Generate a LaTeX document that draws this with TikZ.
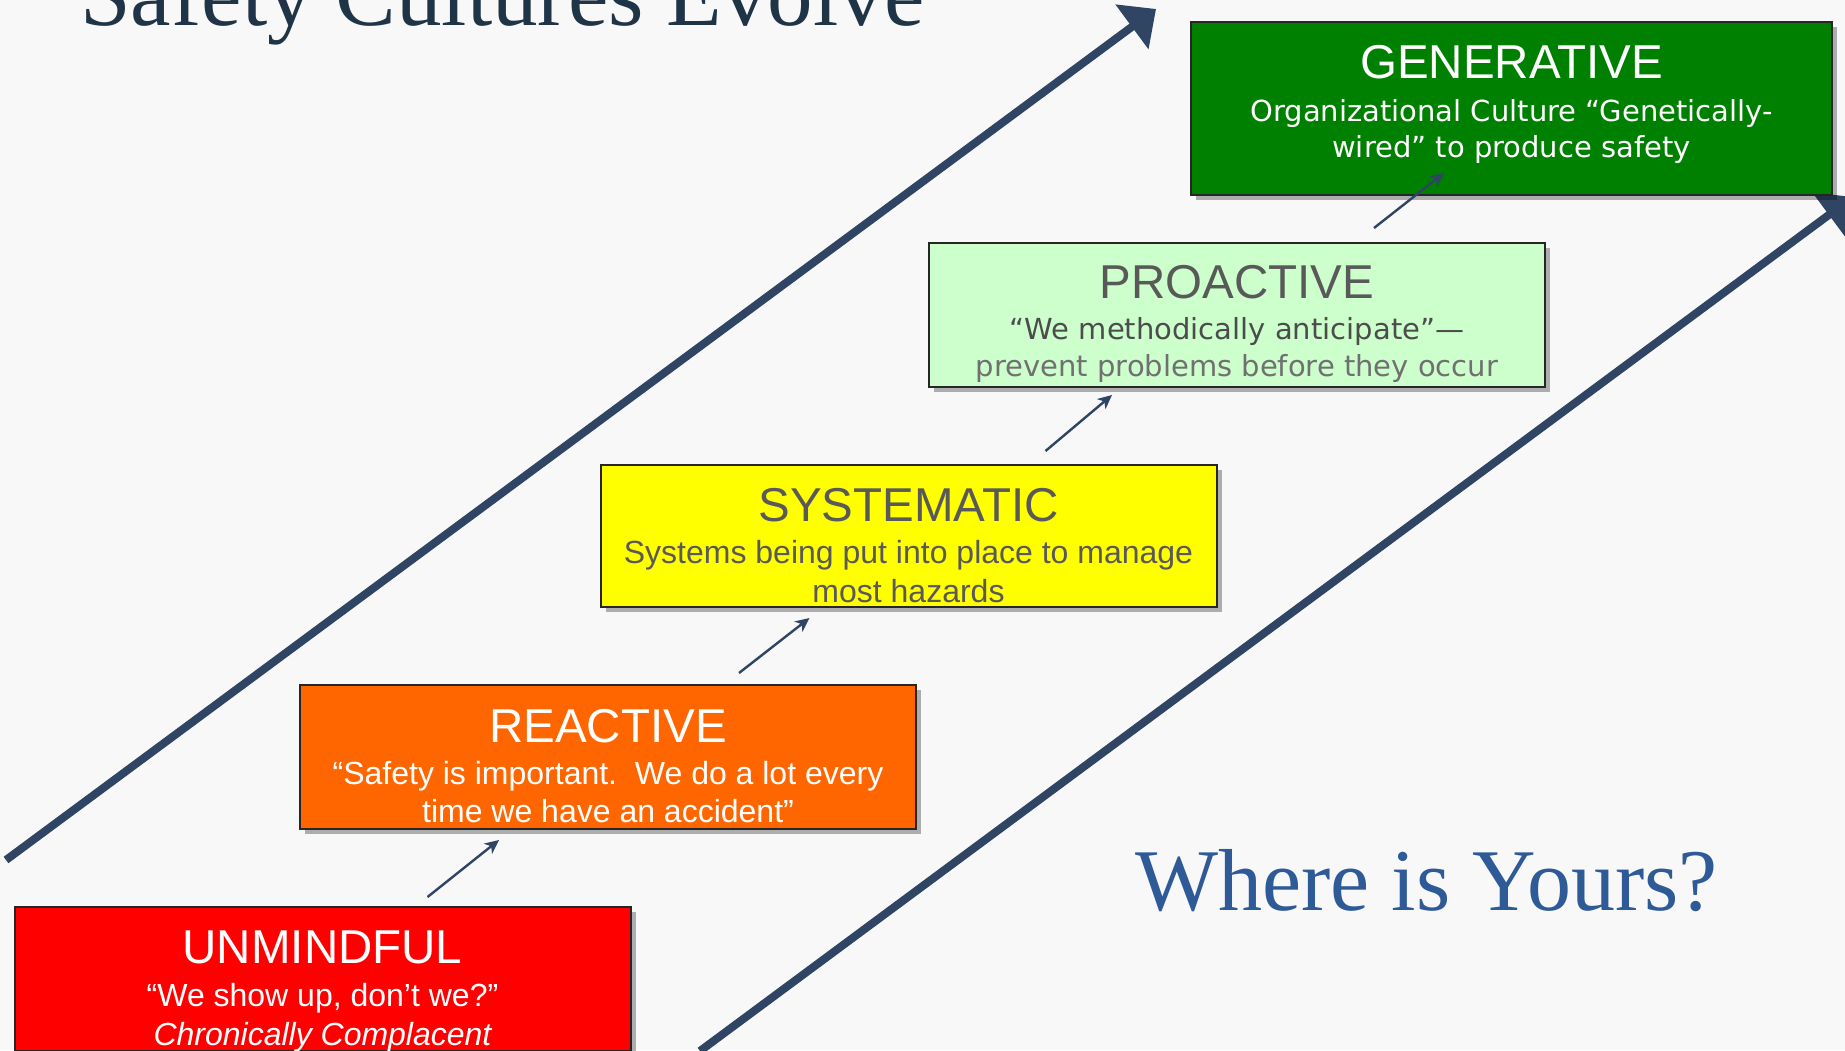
\documentclass[tikz,border=0pt]{standalone}
\usepackage{fontspec}
\setmainfont{Liberation Serif}
\newfontfamily\arialf{Liberation Sans}
\newfontfamily\verdf{DejaVu Sans}
\usetikzlibrary{arrows.meta,calc,shadows}
\definecolor{slate}{RGB}{47,69,99}
\definecolor{titleblue}{RGB}{31,52,71}
\definecolor{askblue}{RGB}{47,90,152}
\definecolor{bggray}{RGB}{248,248,248}
\definecolor{txtgray}{RGB}{89,89,89}
\definecolor{genfill}{RGB}{0,128,0}
\definecolor{profill}{RGB}{204,255,204}
\definecolor{sysfill}{RGB}{255,255,0}
\definecolor{reafill}{RGB}{255,102,0}
\definecolor{unmfill}{RGB}{255,0,0}

\begin{document}
\begin{tikzpicture}[x=0.5pt,y=-0.5pt,
    stage/.style={draw=black!85,line width=1pt,inner sep=0pt,minimum width=308pt,minimum height=72pt,
      drop shadow={shadow xshift=2.5pt,shadow yshift=-2.5pt,opacity=0.3,fill=black}},
    head/.style={anchor=base,font=\arialf\fontsize{23.75}{28}\selectfont},
    asub/.style={anchor=base,font=\arialf\fontsize{16}{19}\selectfont},
    vsub/.style={anchor=base,font=\verdf\fontsize{14.5}{18}\selectfont},
    big/.style={slate,line width=4pt,-{Triangle[length=15pt,width=27pt]}},
    small/.style={slate,line width=1.2pt,-{Stealth[length=7pt,width=6.5pt,inset=2pt]}}]
    \useasboundingbox (0,0) rectangle (1845,1050);
    \clip (0,0) rectangle (1845,1050);
    \fill[bggray] (0,0) rectangle (1845,1050);

    \node[anchor=base west,titleblue,font=\fontsize{45.5}{50}\selectfont,inner sep=0pt] (title) at (80,25) {Safety Cultures Evolve};
    \node[anchor=base west,askblue,font=\fontsize{44}{48}\selectfont,inner sep=0pt] (ask) at (1135,910) {Where is Yours?};

    % the two long arrows
    \coordinate (up1s) at (6,860);
    \coordinate (up1e) at (1156,9);
    \coordinate (up2s) at (700,1051);
    \coordinate (up2e) at (1853,197);
    \draw[big] (up1s) -- (up1e);
    \draw[big] (up2s) -- (up2e);

    % stages
    \node[stage,fill=unmfill] (unm) at (322.5,979) {};
    \node[stage,fill=reafill] (rea) at (608,757) {};
    \node[stage,fill=sysfill,minimum height=71pt] (sys) at (908.5,536) {};
    \node[stage,fill=profill] (pro) at (1237,315) {};
    \node[stage,fill=genfill,minimum width=320.5pt,minimum height=86.5pt] (gen) at (1511.5,108.5) {};

    \draw[small] ($(unm.north west)+(414,-9)$) -- ($(rea.south west)+(200,10)$);
    \draw[small] ($(rea.north west)+(440,-11)$) -- ($(sys.south west)+(210,10)$);
    \draw[small] ($(sys.north west)+(446,-13)$) -- ($(pro.south west)+(184,7)$);
    \draw[small] ($(pro.north west)+(446,-14)$) -- ($(gen.south west)+(254,-23)$);

    \node[head,white] (unm-t) at ($(unm.north)+(0,57)$) {UNMINDFUL};
    \node[asub,white] (unm-a) at ($(unm.north)+(0,100)$) {“We show up, don’t we?”};
    \node[asub,white] (unm-b) at ($(unm.north)+(0,139)$) {\itshape Chronically Complacent};

    \node[head,white] (rea-t) at ($(rea.north)+(0,58)$) {REACTIVE};
    \node[asub,white] (rea-a) at ($(rea.north)+(0,100)$) {“Safety is important.\ \ We do a lot every};
    \node[asub,white] (rea-b) at ($(rea.north)+(0,138)$) {time we have an accident”};

    \node[head,txtgray] (sys-t) at ($(sys.north)+(0,57)$) {SYSTEMATIC};
    \node[asub,txtgray] (sys-a) at ($(sys.north)+(0,99)$) {Systems being put into place to manage};
    \node[asub,txtgray] (sys-b) at ($(sys.north)+(0,138)$) {most hazards};

    \node[head,txtgray] (pro-t) at ($(pro.north)+(0,56)$) {PROACTIVE};
    \node[vsub,black!70] (pro-a) at ($(pro.north)+(0,97)$) {“We methodically anticipate”—};
    \node[vsub,black!56] (pro-b) at ($(pro.north)+(0,134)$) {prevent problems before they occur};

    \node[head,white] (gen-t) at ($(gen.north)+(0,57)$) {GENERATIVE};
    \node[vsub,white] (gen-a) at ($(gen.north)+(0,100)$) {Organizational Culture “Genetically-};
    \node[vsub,white] (gen-b) at ($(gen.north)+(0,136)$) {wired” to produce safety};
\end{tikzpicture}
\end{document}
